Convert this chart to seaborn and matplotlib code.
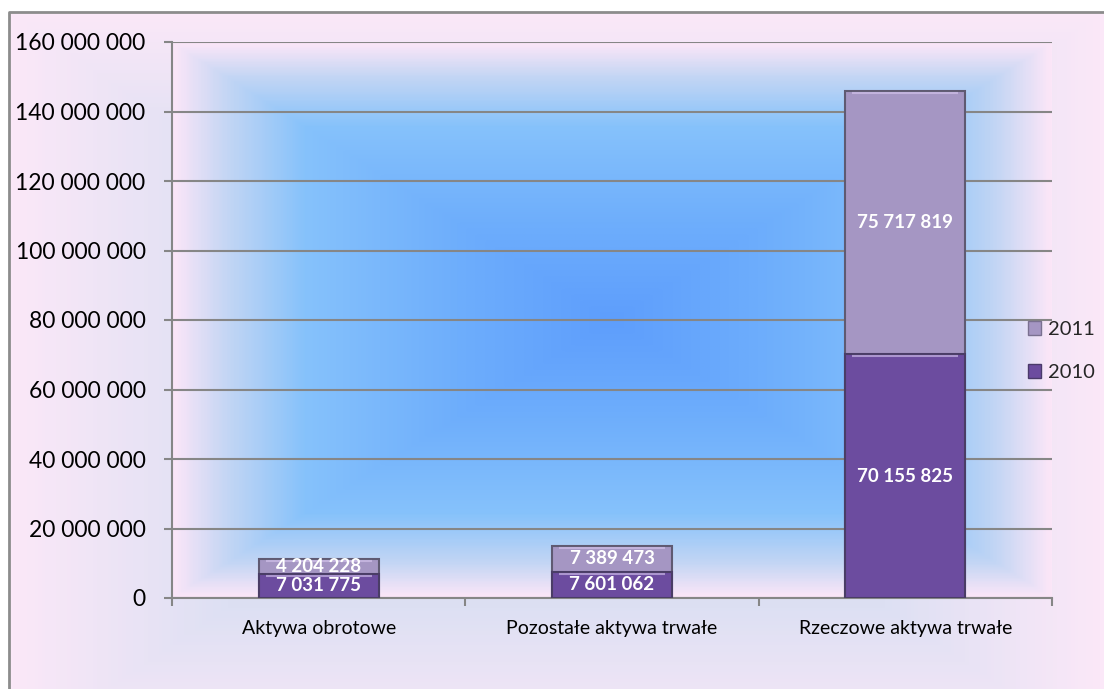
import numpy as np
import pandas as pd
import seaborn as sns
import matplotlib.pyplot as plt
from matplotlib.patches import Patch, Rectangle
from matplotlib.colors import LinearSegmentedColormap

categories = ["Aktywa obrotowe", "Pozostałe aktywa trwałe", "Rzeczowe aktywa trwałe"]
values_2010 = [7031775, 7601062, 70155825]
values_2011 = [4204228, 7389473, 75717819]
series_names = ["2010", "2011"]
y_ticks = [0, 20000000, 40000000, 60000000, 80000000, 100000000, 120000000, 140000000, 160000000]

c2010 = "#6c4c9f"
c2011 = "#a596c3"

df = pd.DataFrame({"kategoria": categories, "2010": values_2010, "2011": values_2011})
df["razem"] = df["2010"] + df["2011"]

sns.set_theme(style="white")
plt.rcParams["font.family"] = ["Lato", "DejaVu Sans"]

W, H = 1104, 689
fig = plt.figure(figsize=(W / 100, H / 100), dpi=100, facecolor="white")


def rect_gradient(nx, ny, cx, cy):
    xx, yy = np.meshgrid(np.linspace(0, 1, nx), np.linspace(0, 1, ny))
    return np.maximum(np.abs(xx - cx) / max(cx, 1 - cx), np.abs(yy - cy) / max(cy, 1 - cy))


# outer chart-area background (rectangular gradient, pink edges), box starts at (9, 12)
outer_cmap = LinearSegmentedColormap.from_list(
    "outer", [(0, "#c9d8f0"), (0.6, "#dde0f3"), (1, "#fbe8f8")])
bg = fig.add_axes([9 / W, 0, 1 - 9 / W, 1 - 12 / H], zorder=0)
bg.imshow(rect_gradient(300, 200, 0.5, 0.55), cmap=outer_cmap, aspect="auto",
          extent=[0, 1, 0, 1], origin="upper")
bg.set_xlim(0, 1)
bg.set_ylim(0, 1)
bg.axis("off")
bg.plot([0, 0, 1], [0, 1, 1], color="#8c8c8c", lw=2, clip_on=False)

# plot-area background (blue center, pink edges)
pos = [172 / W, 1 - 598 / H, (1052 - 172) / W, (598 - 42) / H]
plot_cmap = LinearSegmentedColormap.from_list(
    "plot", [(0, "#5e9efc"), (0.35, "#6eaefc"), (0.7, "#86c2fb"),
             (0.88, "#c4d6f4"), (1, "#fbe6f8")])
pbg = fig.add_axes(pos, zorder=1)
pbg.imshow(rect_gradient(300, 200, 0.5, 0.5), cmap=plot_cmap, aspect="auto",
           extent=[0, 1, 0, 1])
pbg.axis("off")

ax = fig.add_axes(pos, zorder=2)
ax.patch.set_alpha(0)

sns.barplot(data=df, x="kategoria", y="razem", color=c2011, width=0.41,
            saturation=1, edgecolor="#5f5a72", linewidth=1.5, ax=ax, zorder=3)
sns.barplot(data=df, x="kategoria", y="2010", color=c2010, width=0.41,
            saturation=1, edgecolor="#4a3d66", linewidth=1.5, ax=ax, zorder=4)

# soft highlight near the top of each segment (bevel look)
for bar in ax.patches:
    x0 = bar.get_x()
    w = bar.get_width()
    top = bar.get_y() + bar.get_height()
    ax.plot([x0 + w * 0.06, x0 + w * 0.94], [top - 600000, top - 600000],
            color="#d8c8f0", lw=1.5, alpha=0.6, zorder=5, solid_capstyle="butt")


def fmt(v):
    return f"{v:,}".replace(",", " ")


for i in range(len(categories)):
    v10 = values_2010[i]
    v11 = values_2011[i]
    ax.text(i, v10 / 2, fmt(v10), ha="center", va="center", color="white",
            fontsize=13.5, fontweight="bold", zorder=6)
    ax.text(i, v10 + v11 / 2, fmt(v11), ha="center", va="center", color="white",
            fontsize=13.5, fontweight="bold", zorder=6)

ax.set_xlim(-0.5, 2.5)
ax.set_ylim(0, 160000000)
ax.set_yticks(y_ticks)
ax.set_yticklabels([fmt(t) for t in y_ticks], fontsize=16.5, color="black")
ax.set_xticks(range(len(categories)))
ax.set_xticklabels(categories, fontsize=14, color="black")
ax.set_xticks([-0.5, 0.5, 1.5, 2.5], minor=True)
ax.tick_params(axis="x", which="major", length=0, pad=16)
ax.tick_params(axis="x", which="minor", length=6, color="#868686", width=1.5, bottom=True)
ax.tick_params(axis="y", length=6, color="#868686", width=1.5, pad=13, left=True)
ax.set_xlabel("")
ax.set_ylabel("")

ax.yaxis.grid(True, color="#868686", lw=1.5)
ax.set_axisbelow(True)
for side in ["top", "right"]:
    ax.spines[side].set_visible(False)
for side in ["left", "bottom"]:
    ax.spines[side].set_color("#868686")
    ax.spines[side].set_linewidth(1.5)

handles = [Patch(facecolor=c2011, edgecolor="#7a7090"),
           Patch(facecolor=c2010, edgecolor="#4a3a6a")]
fig.legend(handles, [series_names[1], series_names[0]], loc="center left",
           bbox_to_anchor=(1010 / W, 1 - 351 / H), frameon=False, fontsize=14.5,
           handlelength=0.65, handleheight=0.65, handletextpad=0.35, labelspacing=1.3)

fig.savefig("out.png", dpi=100, facecolor="white")
